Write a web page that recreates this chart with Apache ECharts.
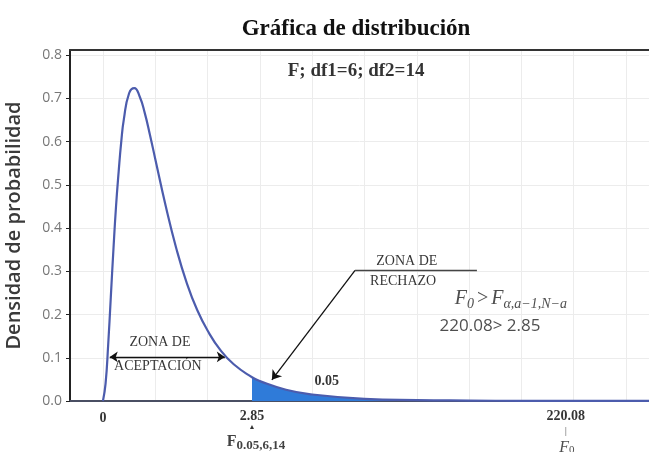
<!DOCTYPE html>
<html><head><meta charset="utf-8">
<script src="https://cdn.jsdelivr.net/npm/echarts@6/dist/echarts.min.js"></script>
<style>html,body{margin:0;padding:0;background:#fff}#c{width:649px;height:452px}</style>
</head><body><div id="c"></div>
<script>
// curve F(6,14) density
const curveX = [0, 0.05, 0.1, 0.15, 0.2, 0.25, 0.3, 0.35, 0.4, 0.5, 0.6, 0.7, 0.8, 0.9, 1.0, 1.2, 1.4, 1.6, 1.8, 2.0, 2.25, 2.5, 2.85, 3.0, 3.5, 4, 5, 6, 7, 8, 9, 10, 10.44];
const curveY = [0, 0.04, 0.13, 0.24, 0.35, 0.45, 0.53, 0.60, 0.652, 0.712, 0.724, 0.705, 0.666, 0.615, 0.56, 0.451, 0.354, 0.274, 0.211, 0.163, 0.117, 0.085, 0.055, 0.046, 0.026, 0.015, 0.005, 0.002, 0.001, 0.0004, 0.0002, 0.0001, 0.0001];
const critical = 2.85;
const fObs = 220.08;
const alpha = 0.05;
const yTicks = [0, 0.1, 0.2, 0.3, 0.4, 0.5, 0.6, 0.7, 0.8];
const xGrid = [0, 1, 2, 3, 4, 5, 6, 7, 8, 9, 10];

const curve = curveX.map((x, i) => [x, curveY[i]]);
const tail = curve.filter(p => p[0] >= critical);

const serif = '"Liberation Serif", "DejaVu Serif", serif';
const sans = '"Open Sans", "Noto Sans", sans-serif';

const chart = echarts.init(document.getElementById('c'));
chart.setOption({
  animation: false,
  title: {
    text: 'Gráfica de distribución', left: 351, top: 13, textAlign: 'center',
    textStyle: { fontFamily: serif, fontWeight: 'bold', fontSize: 23, color: '#111' }
  },
  grid: { left: 70, right: 0, top: 50, bottom: 51, outerBoundsMode: 'none', containLabel: false },
  xAxis: [{
    type: 'value', min: -0.63, max: 10.44, position: 'bottom',
    axisLine: { show: true, onZero: false, lineStyle: { color: '#4a4f63', width: 2 } },
    axisTick: { show: false }, axisLabel: { show: false }, splitLine: { show: false }
  }, {
    type: 'value', min: -0.63, max: 10.44, position: 'top',
    axisLine: { show: true, onZero: false, lineStyle: { color: '#333', width: 2 } },
    axisTick: { show: false }, axisLabel: { show: false }, splitLine: { show: false }
  }],
  yAxis: {
    type: 'value', min: 0, max: 0.812, interval: 0.1,
    name: 'Densidad de probabilidad', nameLocation: 'middle', nameGap: 46,
    nameTextStyle: { fontFamily: sans, fontSize: 20, fontWeight: 600, color: '#3a3a3a' },
    axisLine: { show: true, onZero: false, lineStyle: { color: '#222', width: 2 } },
    axisTick: { show: true, length: 4, lineStyle: { color: '#222' } },
    axisLabel: { fontFamily: sans, fontSize: 14, color: '#777', margin: 8,
      formatter: v => yTicks.includes(Math.round(v * 10) / 10) ? v.toFixed(1) : '' },
    splitLine: { show: true, lineStyle: { color: '#ececec', width: 1 } }
  },
  series: [
    {
      type: 'line', data: [], silent: true, z: 0, zlevel: 0,
      markLine: {
        silent: true, symbol: 'none', label: { show: false }, z: 0,
        lineStyle: { color: '#ececec', width: 1, type: 'solid' },
        data: xGrid.map(v => ({ xAxis: v }))
      }
    },
    {
      type: 'line', data: tail, smooth: true, symbol: 'none',
      lineStyle: { width: 0 }, areaStyle: { color: '#2f7bd9', opacity: 1 }, z: 3
    },
    {
      type: 'line', data: curve, smooth: true, symbol: 'none',
      lineStyle: { color: '#4c5cad', width: 2.2 }, z: 4
    },
    {
      type: 'line', data: [], z: 5,
      markLine: {
        silent: true, animation: false,
        label: { show: false },
        lineStyle: { color: '#111', width: 1.3, type: 'solid' },
        data: [
          [{ coord: [0.13, 0.102], symbol: 'arrow', symbolSize: 8 }, { coord: [2.33, 0.102], symbol: 'arrow', symbolSize: 8 }],
          [{ coord: [4.82, 0.302], symbol: 'none' }, { coord: [3.23, 0.049], symbol: 'arrow', symbolSize: 9 }],
          [{ coord: [4.82, 0.302], symbol: 'none' }, { coord: [7.15, 0.302], symbol: 'none', lineStyle: { color: '#444' } }]
        ]
      }
    },
    {
      type: 'scatter', symbolSize: 0, silent: true, z: 6, clip: false,
      label: { show: true, position: 'inside', color: '#000', fontFamily: serif },
      data: [
        { value: [4.84, 0.763], label: { formatter: 'F; df1=6; df2=14', fontSize: 19, fontWeight: 'bold' } },
        { value: [1.09, 0.1346], label: { formatter: 'ZONA DE', fontSize: 14 } },
        { value: [1.05, 0.081], label: { formatter: 'ACEPTACIÓN', fontSize: 14 } },
        { value: [5.81, 0.3225], label: { formatter: 'ZONA DE', fontSize: 14 } },
        { value: [5.74, 0.278], label: { formatter: 'RECHAZO', fontSize: 14 } },
        { value: [4.28, 0.046], label: { formatter: String(alpha), fontSize: 14, fontWeight: 'bold' } },
        { value: [7.4, 0.172], label: { formatter: fObs + '> ' + critical, fontSize: 17, fontFamily: sans, color: '#222' } },
        { value: [7.8, 0.236], label: {
            formatter: '{i|F}{s|0} {o|>} {i|F}{s|α,a−1,N−a}',
            rich: {
              i: { fontFamily: serif, fontStyle: 'italic', fontSize: 20, color: '#222' },
              o: { fontFamily: serif, fontSize: 20, color: '#222' },
              s: { fontFamily: serif, fontStyle: 'italic', fontSize: 14, color: '#222', padding: [10, 0, 0, 0] }
            } } },
        { value: [0, 0], label: { position: 'bottom', distance: 10, formatter: '0', fontSize: 14, fontWeight: 'bold' } },
        { value: [critical, 0], label: { position: 'bottom', distance: 8, formatter: String(critical), fontSize: 14, fontWeight: 'bold' } },
        { value: [critical, 0], label: { position: 'bottom', distance: 23, formatter: '▲', fontSize: 7 } },
        { value: [critical, 0], label: { position: 'bottom', distance: 31, offset: [4, 0],
            formatter: '{f|F}{s|0.05,6,14}',
            rich: {
              f: { fontFamily: serif, fontWeight: 'bold', fontSize: 16, color: '#111' },
              s: { fontFamily: serif, fontWeight: 'bold', fontSize: 13, color: '#111', padding: [7, 0, 0, 0] }
            } } },
        { value: [8.85, 0], label: { position: 'bottom', distance: 8, formatter: String(fObs), fontSize: 14, fontWeight: 'bold' } },
        { value: [8.85, 0], label: { position: 'bottom', distance: 25, formatter: '|', fontSize: 11, color: '#333' } },
        { value: [8.85, 0], label: { position: 'bottom', distance: 38, offset: [1, 0],
            formatter: '{f|F}{s|0}',
            rich: {
              f: { fontFamily: serif, fontStyle: 'italic', fontSize: 16, color: '#222' },
              s: { fontFamily: serif, fontSize: 11, color: '#222', padding: [6, 0, 0, 0] }
            } } }
      ]
    }
  ]
});
</script></body></html>
